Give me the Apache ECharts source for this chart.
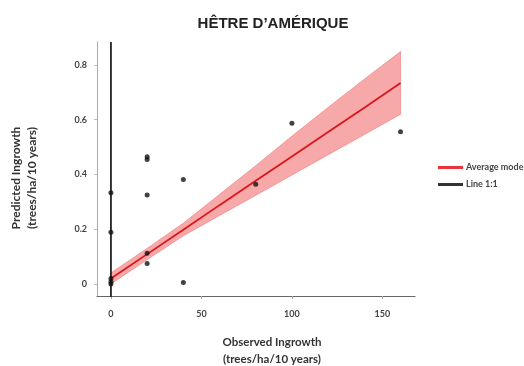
<!DOCTYPE html>
<html>
<head>
<meta charset="utf-8">
<script src="https://cdn.jsdelivr.net/npm/echarts@6/dist/echarts.min.js"></script>
<style>html,body{margin:0;padding:0;background:#fff;}#c{width:524px;height:366px;}</style>
</head>
<body>
<div id="c"></div>
<script>
var titleText = "HÊTRE D’AMÉRIQUE";
var xTicks = [0, 50, 100, 150];
var yTicks = [0, 0.2, 0.4, 0.6, 0.8];
var observed = [[0, 0.333], [0, 0.189], [0, 0.02], [0, 0.008], [0, 0], [20, 0.465], [20, 0.455], [20, 0.325], [20, 0.112], [20, 0.075], [40, 0.382], [40, 0.005], [80, 0.364], [100, 0.587], [160, 0.556]];
var fitX = [0, 20, 40, 60, 80, 100, 120, 140, 160];
var fitMean = [0.02, 0.109, 0.198, 0.288, 0.377, 0.466, 0.555, 0.644, 0.734];
var fitUpper = [0.04, 0.13, 0.222, 0.327, 0.432, 0.54, 0.645, 0.748, 0.849];
var fitLower = [0.0, 0.089, 0.176, 0.25, 0.324, 0.398, 0.472, 0.546, 0.62];
var oneToOne = [[0, -0.06], [0, 0.884]];

var chart = echarts.init(document.getElementById('c'));
var lbl = 'Lato';
chart.setOption({
  animation: false,
  backgroundColor: '#fff',
  title: {text: titleText, left: 268, top: 11, textAlign: 'center',
    textStyle: {fontFamily: 'Liberation Sans', fontWeight: 'bold', fontSize: 15, color: '#222'}},
  legend: {
    orient: 'vertical', left: 433, top: 158, itemWidth: 25, itemHeight: 3, itemGap: 8,
    icon: 'rect',
    textStyle: {fontFamily: lbl, fontSize: 9, fontWeight: 'bold', color: '#444', padding: [0,0,0,-2]},
    data: [{name: 'Average mode', itemStyle: {color: '#e8343a'}}, {name: 'Line 1:1', itemStyle: {color: '#333'}}]
  },
  grid: {left: 97, right: 109, top: 42, bottom: 70},
  xAxis: {
    type: 'value', min: -7.7, max: 168,
    splitLine: {show: false},
    axisLine: {onZero: false, lineStyle: {color: '#666', width: 1.2}},
    axisTick: {show: true, length: 3, lineStyle: {color: '#aaa'}, customValues: xTicks},
    axisLabel: {customValues: xTicks, margin: 14, fontFamily: lbl, fontSize: 9, color: '#444', fontWeight: 'bold'}
  },
  yAxis: {
    type: 'value', min: -0.044, max: 0.884,
    splitLine: {show: false},
    axisLine: {onZero: false, lineStyle: {color: '#aaa', width: 1}},
    axisTick: {show: true, length: 3, lineStyle: {color: '#bbb'}, customValues: yTicks},
    axisLabel: {customValues: yTicks, margin: 10, fontFamily: lbl, fontSize: 9, color: '#444', fontWeight: 'bold'}
  },
  graphic: [
    {type: 'text', x: 272, y: 342, style: {text: 'Observed Ingrowth', font: 'bold 11.5px Lato', fill: '#333', align: 'center', verticalAlign: 'middle'}},
    {type: 'text', x: 272, y: 359, style: {text: '(trees/ha/10 years)', font: 'bold 11.5px Lato', fill: '#333', align: 'center', verticalAlign: 'middle'}},
    {type: 'text', x: 16, y: 178, rotation: Math.PI/2, style: {text: 'Predicted Ingrowth', font: 'bold 12px Lato', fill: '#333', align: 'center', verticalAlign: 'middle'}},
    {type: 'text', x: 32, y: 178, rotation: Math.PI/2, style: {text: '(trees/ha/10 years)', font: 'bold 12px Lato', fill: '#333', align: 'center', verticalAlign: 'middle'}}
  ],
  series: [
    {name: 'band', type: 'custom', silent: true, z: 1,
      data: [0],
      renderItem: function(params, api) {
        var pts = [];
        for (var i = 0; i < fitX.length; i++) pts.push(api.coord([fitX[i], fitUpper[i]]));
        for (var j = fitX.length - 1; j >= 0; j--) pts.push(api.coord([fitX[j], fitLower[j]]));
        return {type: 'polygon', shape: {points: pts},
          style: {fill: 'rgba(242,110,110,0.6)', stroke: '#f08a8a', lineWidth: 0.8}};
      }},
    {name: 'Average mode', type: 'line', symbol: 'none',
      data: fitX.map(function(x, i){ return [x, fitMean[i]]; }),
      lineStyle: {color: '#d9161c', width: 1.8}, itemStyle: {color: '#e8343a'}, z: 3},
    {name: 'Line 1:1', type: 'line', symbol: 'none', data: oneToOne,
      lineStyle: {color: '#222', width: 1.8}, itemStyle: {color: '#333'}, z: 4},
    {name: 'obs', type: 'scatter', data: observed, symbolSize: 5,
      itemStyle: {color: '#111'}, z: 5}
  ]
});
</script>
</body>
</html>
